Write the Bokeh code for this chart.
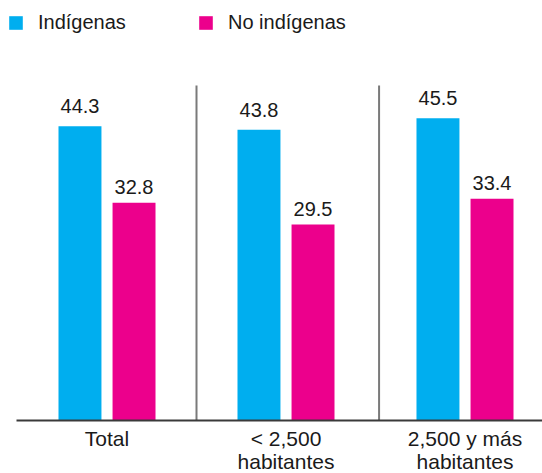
from bokeh.plotting import figure
from bokeh.models import (ColumnDataSource, Range1d, Legend, LegendItem)
from bokeh.core.properties import value
from bokeh.transform import dodge
from bokeh.embed import file_html
from bokeh.resources import INLINE

# ---- data ----
categories = ["Total", "< 2,500\nhabitantes", "2,500 y más\nhabitantes"]
indigenas = [44.3, 43.8, 45.5]
no_indigenas = [32.8, 29.5, 33.4]
series_names = ["Indígenas", "No indígenas"]
separators = [0.5, 1.52]
separator_top = 50.45
baseline_start = -0.5056

BLUE = "#00AEEF"
PINK = "#EC008C"
TEXT = "#1a1a1a"
FONT = "Liberation Sans"

xs = list(range(len(categories)))
src = ColumnDataSource(dict(
    x=xs,
    cat=categories,
    zero=[0] * len(xs),
    ind=indigenas,
    noind=no_indigenas,
    ind_lbl=[f"{v:.1f}" for v in indigenas],
    noind_lbl=[f"{v:.1f}" for v in no_indigenas],
))

x_end = 2.433
p = figure(width=542, height=473, output_backend="svg", toolbar_location=None,
           x_range=Range1d(-0.595, x_end), y_range=Range1d(-7.98, 63.25),
           min_border_left=0, min_border_right=0, min_border_top=0, min_border_bottom=0)
p.outline_line_color = None
p.xgrid.visible = False
p.ygrid.visible = False
p.xaxis.visible = False
p.yaxis.visible = False
p.background_fill_color = "white"
p.border_fill_color = "white"

bw = 0.24
off = 0.151
r1 = p.vbar(x=dodge("x", -off), top="ind", width=bw, bottom=0, source=src,
            fill_color=BLUE, line_color=None)
r2 = p.vbar(x=dodge("x", off), top="noind", width=bw, bottom=0, source=src,
            fill_color=PINK, line_color=None)

p.text(x=dodge("x", -off), y="ind", text="ind_lbl", source=src,
       text_align="center", text_baseline="alphabetic", y_offset=-20,
       text_font=value(FONT), text_font_size="20px", text_color=TEXT)
p.text(x=dodge("x", off), y="noind", text="noind_lbl", source=src,
       text_align="center", text_baseline="alphabetic", y_offset=-16,
       text_font=value(FONT), text_font_size="20px", text_color=TEXT)

# separators between groups
p.segment(x0=separators, y0=[0] * len(separators), x1=separators,
          y1=[separator_top] * len(separators), line_color="#7a7a7a", line_width=2)

# baseline (category axis line)
p.segment(x0=[baseline_start], y0=[0], x1=[x_end], y1=[0],
          line_color="#3a3a3a", line_width=2)

# category labels under the baseline
p.text(x="x", y="zero", text="cat", source=src, text_align="center",
       text_baseline="top", y_offset=6, text_font=value(FONT),
       text_font_size="21px", text_color=TEXT, text_line_height=1.0)

# legends
for name, r, loc in [(series_names[0], r1, (7, 439)), (series_names[1], r2, (197, 439))]:
    lg = Legend(items=[LegendItem(label=name, renderers=[r])], location=loc,
                orientation="horizontal", glyph_width=17, glyph_height=17,
                label_standoff=14, padding=0, margin=0, spacing=0,
                border_line_color=None, background_fill_alpha=0,
                label_text_font=FONT, label_text_font_size="20px",
                label_text_color=TEXT, label_height=17)
    p.add_layout(lg)

open("out.html", "w").write(file_html(p, INLINE))
